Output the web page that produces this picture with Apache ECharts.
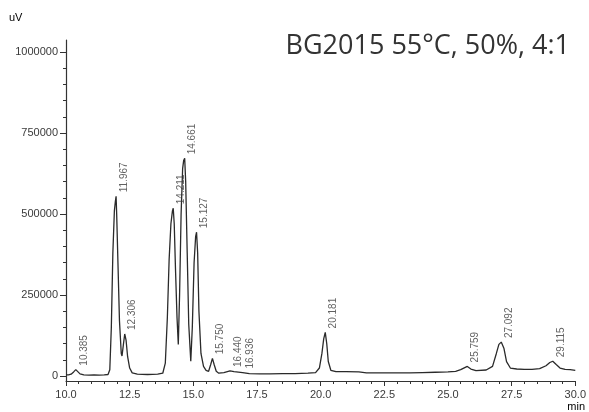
<!DOCTYPE html>
<html><head><meta charset="utf-8">
<script src="https://cdn.jsdelivr.net/npm/echarts@6/dist/echarts.min.js"></script>
<style>html,body{margin:0;padding:0;background:#fff}#c{width:589px;height:412px}</style>
</head><body><div id="c"></div>
<script>
const titleText = 'BG2015 55°C, 50%, 4:1';
const xTicks = [10.0, 12.5, 15.0, 17.5, 20.0, 22.5, 25.0, 27.5, 30.0];
const yTicks = [0, 250000, 500000, 750000, 1000000];
// chromatogram trace: [retention time (min), signal (uV)]
const trace = [
 [10.0,4000],[10.1,4000],[10.2,6000],[10.3,13000],[10.385,20000],[10.45,14000],[10.55,7000],[10.7,4000],[10.9,3000],
 [11.1,4000],[11.3,3000],[11.5,4000],[11.65,5000],[11.72,20000],[11.78,150000],[11.84,380000],[11.9,510000],
 [11.94,540000],[11.967,555000],[11.99,500000],[12.04,350000],[12.1,170000],[12.17,70000],[12.2,62000],
 [12.25,95000],[12.306,130000],[12.36,110000],[12.42,60000],[12.5,25000],[12.6,10000],[12.8,6000],[13.2,5000],
 [13.6,6000],[13.8,9000],[13.9,40000],[13.98,180000],[14.05,360000],[14.12,470000],[14.18,510000],[14.211,518000],
 [14.25,470000],[14.3,330000],[14.36,180000],[14.41,98000],[14.46,250000],[14.52,500000],[14.58,640000],
 [14.62,665000],[14.661,672000],[14.7,600000],[14.76,380000],[14.82,160000],[14.9,46000],[14.96,150000],
 [15.03,350000],[15.09,430000],[15.127,444000],[15.17,380000],[15.22,200000],[15.3,70000],[15.4,30000],
 [15.5,18000],[15.6,15000],[15.68,35000],[15.75,55000],[15.82,35000],[15.9,15000],[16.0,9000],[16.2,11000],
 [16.44,16000],[16.6,14000],[16.936,11000],[17.2,8000],[17.6,7000],[18.0,7000],[18.5,8000],[19.0,8000],
 [19.5,9000],[19.8,11000],[19.95,25000],[20.05,70000],[20.12,115000],[20.181,135000],[20.24,100000],
 [20.3,45000],[20.4,18000],[20.6,14000],[21.0,14000],[21.5,13000],[21.8,10000],[22.5,10000],[23.0,10000],
 [23.5,10000],[24.0,11000],[24.5,12000],[25.0,13000],[25.3,15000],[25.5,20000],[25.759,30000],[25.9,22000],
 [26.1,17000],[26.5,19000],[26.75,30000],[26.9,70000],[27.0,98000],[27.092,105000],[27.2,85000],[27.3,45000],
 [27.45,25000],[27.7,22000],[28.0,21000],[28.3,21000],[28.6,23000],[28.85,32000],[29.0,42000],[29.115,46000],
 [29.25,36000],[29.4,25000],[29.6,21000],[29.8,20000],[30.0,18000]
];
const peakTimes = [10.385, 11.967, 12.306, 14.211, 14.661, 15.127, 15.750, 16.440, 16.936, 20.181, 25.759, 27.092, 29.115];
const peakHeights = [20000, 555000, 130000, 518000, 672000, 444000, 55000, 16000, 11000, 135000, 30000, 105000, 46000];
const peakLabels = ['10.385','11.967','12.306','14.211','14.661','15.127','15.750','16.440','16.936','20.181','25.759','27.092','29.115'];

const yMin = -15000, yMax = 1037000;
const yMinor = [];
for (let v = 0; v <= 1000000; v += 50000) yMinor.push(v);

const chart = echarts.init(document.getElementById('c'), null, {renderer: 'canvas'});
const axisColor = '#333';
const labelFont = {fontFamily: 'Liberation Sans, Arial, sans-serif', fontSize: 11, color: '#3a3a3a'};
chart.setOption({
  animation: false,
  title: {text: titleText, right: 14, top: 28,
    textStyle: {fontFamily: 'Open Sans', fontWeight: 'normal', fontSize: 27, color: '#333'}},
  grid: {left: 66, right: 9, top: 40, bottom: 31},
  graphic: [
    {type: 'text', left: 9, top: 12, style: Object.assign({text: 'uV'}, labelFont)},
    {type: 'text', right: 4, top: 401, style: Object.assign({text: 'min'}, labelFont)}
  ],
  xAxis: {type: 'value', min: xTicks[0], max: xTicks[xTicks.length-1], interval: 2.5,
    axisLine: {onZero: false, lineStyle: {color: axisColor, width: 1.2}},
    axisTick: {show: true, length: 5, lineStyle: {color: axisColor}},
    minorTick: {show: true, splitNumber: 5, length: 3, lineStyle: {color: axisColor}},
    splitLine: {show: false},
    axisLabel: Object.assign({formatter: v => v.toFixed(1), margin: 8, showMaxLabel: true, showMinLabel: true}, labelFont)
  },
  yAxis: [
    {type: 'value', min: yMin, max: yMax,
      axisLine: {show: true, lineStyle: {color: axisColor, width: 1.2}},
      axisTick: {show: true, length: 6, customValues: yTicks, lineStyle: {color: axisColor}},
      splitLine: {show: false},
      axisLabel: Object.assign({customValues: yTicks, margin: 8, formatter: v => String(v)}, labelFont)
    },
    {type: 'value', min: yMin, max: yMax, position: 'left',
      axisLine: {show: false},
      axisTick: {show: true, length: 3, customValues: yMinor, lineStyle: {color: axisColor}},
      splitLine: {show: false},
      axisLabel: {show: false}
    }
  ],
  series: [
    {type: 'line', data: trace, showSymbol: false, symbol: 'none',
      lineStyle: {color: '#2a2a2a', width: 1.3}, z: 3},
    {type: 'scatter', data: peakTimes.map((t, i) => [t, peakHeights[i]]), symbolSize: 0, z: 4,
      label: {show: true, rotate: 90, position: [8, -4], align: 'left', verticalAlign: 'middle',
        formatter: p => peakLabels[p.dataIndex],
        fontFamily: 'Liberation Sans, Arial, sans-serif', fontSize: 10, color: '#3a3a3a'}}
  ]
});
</script></body></html>
